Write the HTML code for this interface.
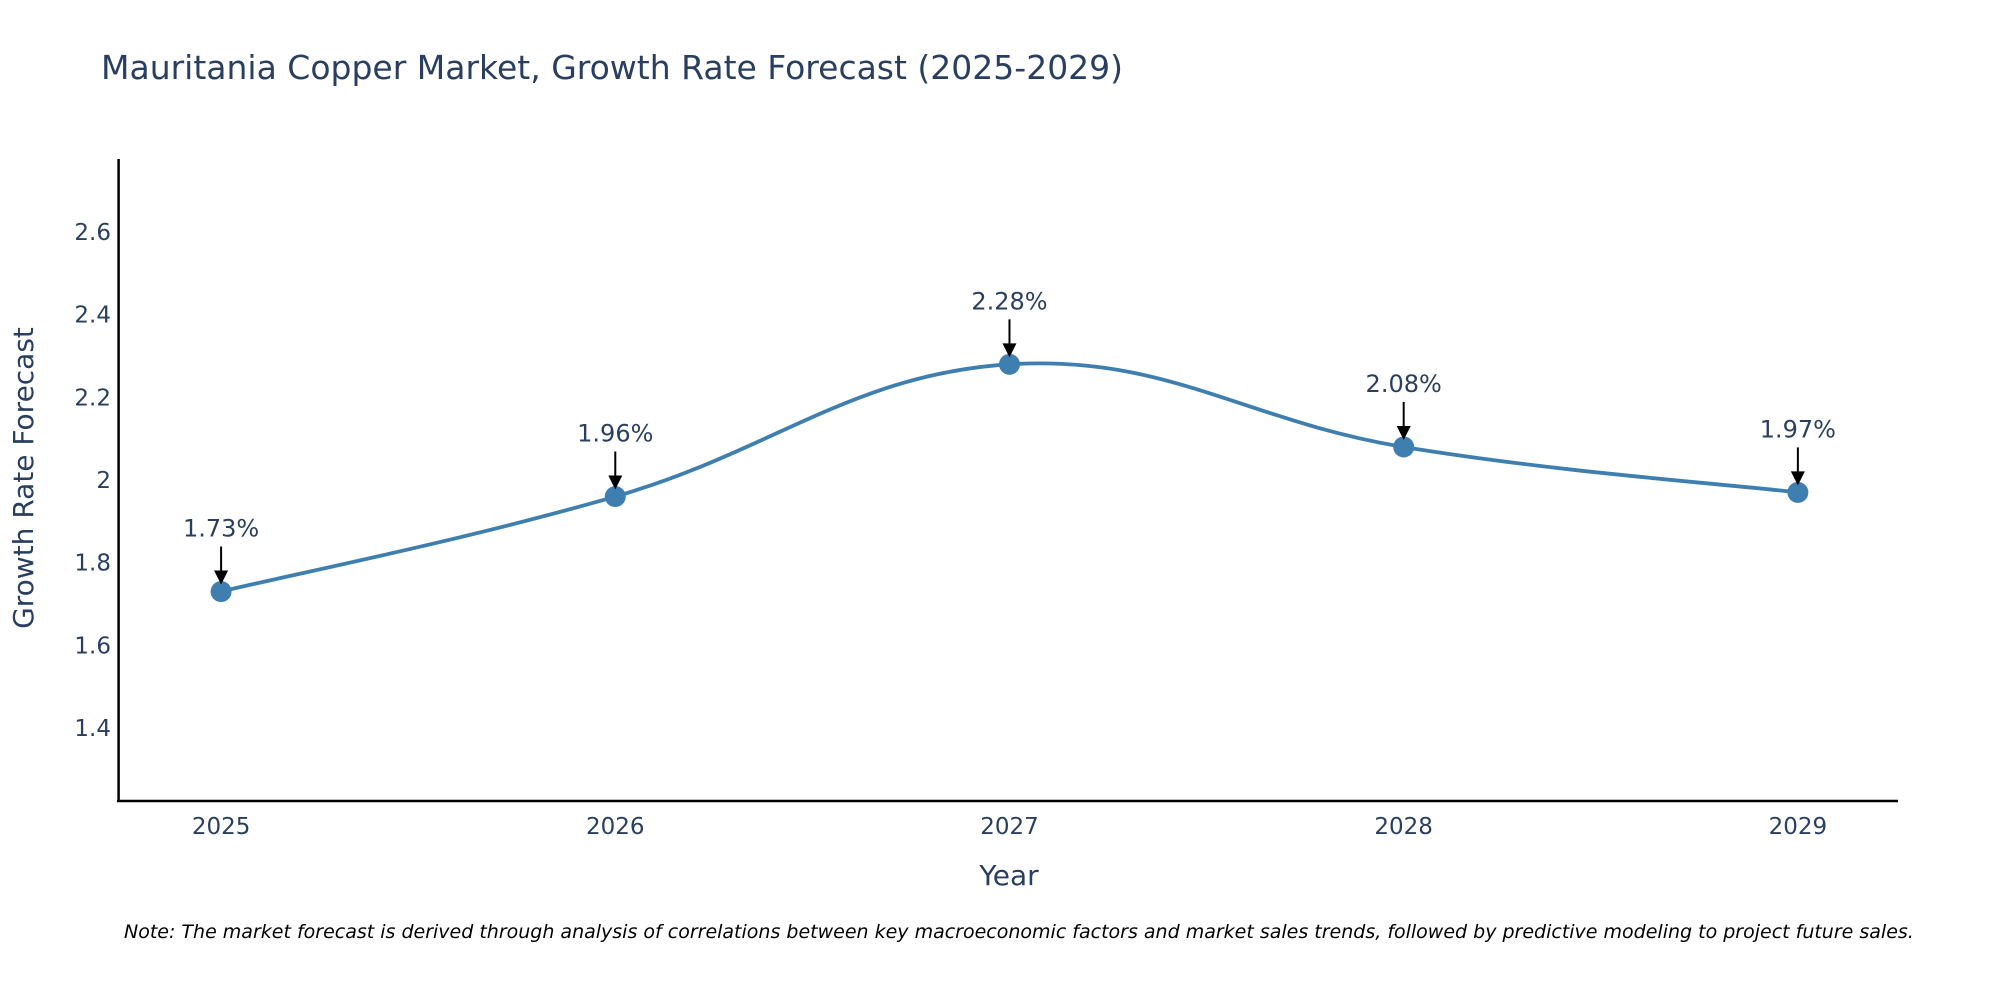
<!DOCTYPE html>
<html><head><meta charset="utf-8"><style>
html,body{margin:0;padding:0;background:#fff;}
svg{display:block;font-family:"DejaVu Sans","Liberation Sans",sans-serif;}
</style></head><body>
<svg id="chart" width="2000" height="1000" viewBox="0 0 2000 1000">
<text x="101" y="79" font-size="33" fill="#2a3f5f">Mauritania Copper Market, Growth Rate Forecast (2025-2029)</text>
<g id="yticks"></g>
<g id="xticks"></g>
<line x1="118.6" y1="159" x2="118.6" y2="802" stroke="#000" stroke-width="2.5"/>
<line x1="117" y1="801" x2="1898" y2="801" stroke="#000" stroke-width="2.5"/>
<text x="1009" y="885" font-size="28" fill="#2a3f5f" text-anchor="middle">Year</text>
<text transform="translate(33,478) rotate(-90)" font-size="28" fill="#2a3f5f" text-anchor="middle">Growth Rate Forecast</text>
<g id="series"></g>
<g id="annos"></g>
<text x="124" y="938" font-size="19" font-style="italic" fill="#000">Note: The market forecast is derived through analysis of correlations between key macroeconomic factors and market sales trends, followed by predictive modeling to project future sales.</text>
</svg>
<script>
const years = [2025, 2026, 2027, 2028, 2029];
const values = [1.73, 1.96, 2.28, 2.08, 1.97];
const valueLabels = ["1.73%", "1.96%", "2.28%", "2.08%", "1.97%"];
const yTickValues = [1.4, 1.6, 1.8, 2, 2.2, 2.4, 2.6];
const yTickLabels = ["1.4", "1.6", "1.8", "2", "2.2", "2.4", "2.6"];

const NS = "http://www.w3.org/2000/svg";
const X0 = 118.6, X1 = 1898, Y0 = 801, Y1 = 159;
const xMin = 2024.74, xMax = 2029.254, yMin = 1.223, yMax = 2.777;
function xs(v){ return X0 + (v - xMin) / (xMax - xMin) * (X1 - X0); }
function ys(v){ return Y0 - (v - yMin) / (yMax - yMin) * (Y0 - Y1); }
function mk(tag, attrs, parent){ const e = document.createElementNS(NS, tag); for (const k in attrs) e.setAttribute(k, attrs[k]); parent.appendChild(e); return e; }

const yt = document.getElementById('yticks');
yTickValues.forEach((v, i) => {
  const t = mk('text', {x: 111, y: ys(v) + 8, 'font-size': 23, fill: '#2a3f5f', 'text-anchor': 'end'}, yt);
  
  
  t.textContent = yTickLabels[i];
});
const xt = document.getElementById('xticks');
years.forEach(y => {
  const t = mk('text', {x: xs(y), y: 834, 'font-size': 23, fill: '#2a3f5f', 'text-anchor': 'middle'}, xt);
  
  
  t.textContent = String(y);
});

const pts = years.map((y, i) => [xs(y), ys(values[i])]);
let d = `M${pts[0][0]},${pts[0][1]}`;
const tk = 0.2;
for (let i = 0; i < pts.length - 1; i++) {
  const p0 = pts[Math.max(0, i - 1)], p1 = pts[i], p2 = pts[i + 1], p3 = pts[Math.min(pts.length - 1, i + 2)];
  const c1 = [p1[0] + (p2[0] - p0[0]) * tk, p1[1] + (p2[1] - p0[1]) * tk];
  const c2 = [p2[0] - (p3[0] - p1[0]) * tk, p2[1] - (p3[1] - p1[1]) * tk];
  d += ` C${c1[0]},${c1[1]} ${c2[0]},${c2[1]} ${p2[0]},${p2[1]}`;
}
const s = document.getElementById('series');
const line = mk('path', {d: d, fill: 'none', stroke: '#3f7fb0', 'stroke-width': 3.8}, s);


pts.forEach(p => {
  const c = mk('circle', {cx: p[0], cy: p[1], r: 10.5, fill: '#3f7fb0'}, s);
  
  
});

const an = document.getElementById('annos');
pts.forEach((p, i) => {
  const tip = p[1] - 7, tail = p[1] - 45;
  const l = mk('line', {x1: p[0], y1: tail, x2: p[0], y2: tip - 10, stroke: '#000', 'stroke-width': 2}, an);
  
  
  const h = mk('polygon', {points: `${p[0]-7},${tip-14} ${p[0]+7},${tip-14} ${p[0]},${tip}`, fill: '#000'}, an);
  
  
  const t = mk('text', {x: p[0], y: tail - 10, 'font-size': 24, fill: '#2a3f5f', 'text-anchor': 'middle'}, an);
  
  
  t.textContent = valueLabels[i];
});
</script>
</body></html>
